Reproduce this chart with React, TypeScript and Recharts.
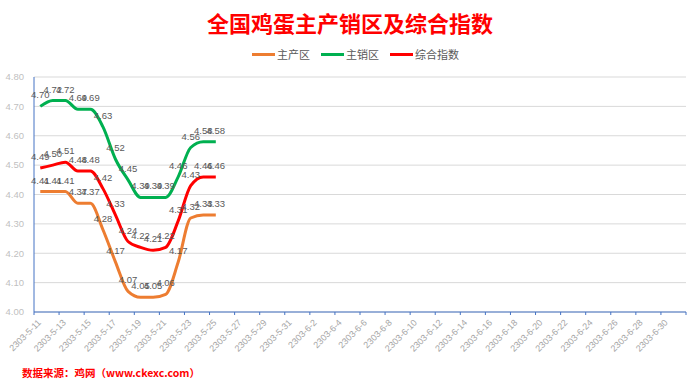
import { LineChart, Line, XAxis, YAxis, CartesianGrid, LabelList } from "recharts";

const DATES = [
  "2303-5-11", "2303-5-12", "2303-5-13", "2303-5-14", "2303-5-15", "2303-5-16",
  "2303-5-17", "2303-5-18", "2303-5-19", "2303-5-20", "2303-5-21", "2303-5-22",
  "2303-5-23", "2303-5-24", "2303-5-25", "2303-5-26", "2303-5-27", "2303-5-28",
  "2303-5-29", "2303-5-30", "2303-5-31", "2303-6-1", "2303-6-2", "2303-6-3",
  "2303-6-4", "2303-6-5", "2303-6-6", "2303-6-7", "2303-6-8", "2303-6-9",
  "2303-6-10", "2303-6-11", "2303-6-12", "2303-6-13", "2303-6-14", "2303-6-15",
  "2303-6-16", "2303-6-17", "2303-6-18", "2303-6-19", "2303-6-20", "2303-6-21",
  "2303-6-22", "2303-6-23", "2303-6-24", "2303-6-25", "2303-6-26", "2303-6-27",
  "2303-6-28", "2303-6-29", "2303-6-30", "2303-7-1",
];

// 主产区
const PRODUCE = [4.41, 4.41, 4.41, 4.37, 4.37, 4.28, 4.17, 4.07, 4.05, 4.05, 4.06, 4.17, 4.32, 4.33, 4.33];
// 主销区
const SALES = [4.70, 4.72, 4.72, 4.69, 4.69, 4.63, 4.52, 4.45, 4.39, 4.39, 4.39, 4.46, 4.56, 4.58, 4.58];
// 综合指数
const INDEX = [4.49, 4.50, 4.51, 4.48, 4.48, 4.42, 4.33, 4.24, 4.22, 4.21, 4.22, 4.31, 4.43, 4.46, 4.46];

const Y_TICKS = [4.0, 4.1, 4.2, 4.3, 4.4, 4.5, 4.6, 4.7, 4.8];

const SERIES = [
  { key: "produce", name: "主产区", color: "#ed7d31" },
  { key: "sales", name: "主销区", color: "#00b050" },
  { key: "index", name: "综合指数", color: "#ff0000" },
];

const data = DATES.map((date, i) => ({
  date,
  produce: PRODUCE[i] ?? null,
  sales: SALES[i] ?? null,
  index: INDEX[i] ?? null,
}));

const W = 700;
const H = 386;
const MARGIN = { top: 77, right: 14, bottom: 34, left: 0 };
const Y_W = 34;
const X_H = 40;
const AXIS_Y = H - MARGIN.bottom - X_H;
const BW = (W - MARGIN.right - Y_W) / DATES.length;
const AXIS_BLUE = "#4472c4";

const XTick = (props: any) => {
  const { x, payload } = props;
  const isLast = payload.value === "2303-6-30";
  return (
    <g>
      <line x1={x - BW / 2} x2={x - BW / 2} y1={AXIS_Y} y2={AXIS_Y + 3} stroke={AXIS_BLUE} />
      {isLast && (
        <line x1={x + BW * 1.5} x2={x + BW * 1.5} y1={AXIS_Y} y2={AXIS_Y + 3} stroke={AXIS_BLUE} />
      )}
      <text
        x={x - 1}
        y={AXIS_Y + 9}
        dy="0.35em"
        textAnchor="end"
        fill="#a6a6a6"
        fontSize={9}
        transform={`rotate(-45, ${x - 1}, ${AXIS_Y + 9})`}
      >
        {payload.value}
      </text>
    </g>
  );
};

export default function App() {
  return (
    <div
      style={{
        position: "absolute",
        left: 0,
        top: 0,
        width: W,
        height: H,
        background: "#fff",
        fontFamily: "'Liberation Sans', Arial, sans-serif",
      }}
    >
      <div
        style={{
          position: "absolute",
          top: 8,
          left: 0,
          width: W,
          textAlign: "center",
          color: "#ff0000",
          fontWeight: "bold",
          fontSize: 22,
          fontFamily: "'Noto Sans CJK SC', sans-serif",
          lineHeight: "28px",
        }}
      >
        全国鸡蛋主产销区及综合指数
      </div>
      <div
        style={{
          position: "absolute",
          top: 46,
          left: 252,
          display: "flex",
          alignItems: "center",
          height: 16,
          fontSize: 11,
          color: "#595959",
          fontFamily: "'Noto Sans CJK SC', sans-serif",
        }}
      >
        {SERIES.map((s) => (
          <div key={s.key} style={{ display: "flex", alignItems: "center", marginRight: 11 }}>
            <span style={{ display: "inline-block", width: 23, height: 3, background: s.color, marginRight: 2 }} />
            <span>{s.name}</span>
          </div>
        ))}
      </div>
      <LineChart width={W} height={H} data={data} margin={MARGIN}>
        <CartesianGrid vertical={false} stroke="#d9d9d9" />
        <XAxis
          dataKey="date"
          scale="band"
          interval={1}
          height={X_H}
          axisLine={{ stroke: AXIS_BLUE }}
          tickLine={false}
          tick={<XTick />}
        />
        <YAxis
          domain={[4, 4.8]}
          ticks={Y_TICKS}
          width={Y_W}
          axisLine={{ stroke: AXIS_BLUE }}
          tickLine={false}
          tickSize={0}
          tickMargin={10}
          tick={{ fill: "#bfbfbf", fontSize: 9.5 }}
          tickFormatter={(v: number) => v.toFixed(2)}
        />
        {SERIES.map((s) => (
          <Line
            key={s.key}
            dataKey={s.key}
            name={s.name}
            type="monotone"
            stroke={s.color}
            strokeWidth={3}
            dot={false}
            isAnimationActive={false}
          >
            <LabelList
              dataKey={s.key}
              position="top"
              offset={8}
              fill="#595959"
              fontSize={9.5}
              formatter={(v: any) => (v == null ? "" : Number(v).toFixed(2))}
            />
          </Line>
        ))}
      </LineChart>
      <div
        style={{
          position: "absolute",
          top: 366,
          left: 22,
          color: "#ff0000",
          fontWeight: "bold",
          fontSize: 10.5,
          fontFamily: "'Noto Sans CJK SC', sans-serif",
          lineHeight: "14px",
        }}
      >
        数据来源：鸡网（www.ckexc.com）
      </div>
    </div>
  );
}
